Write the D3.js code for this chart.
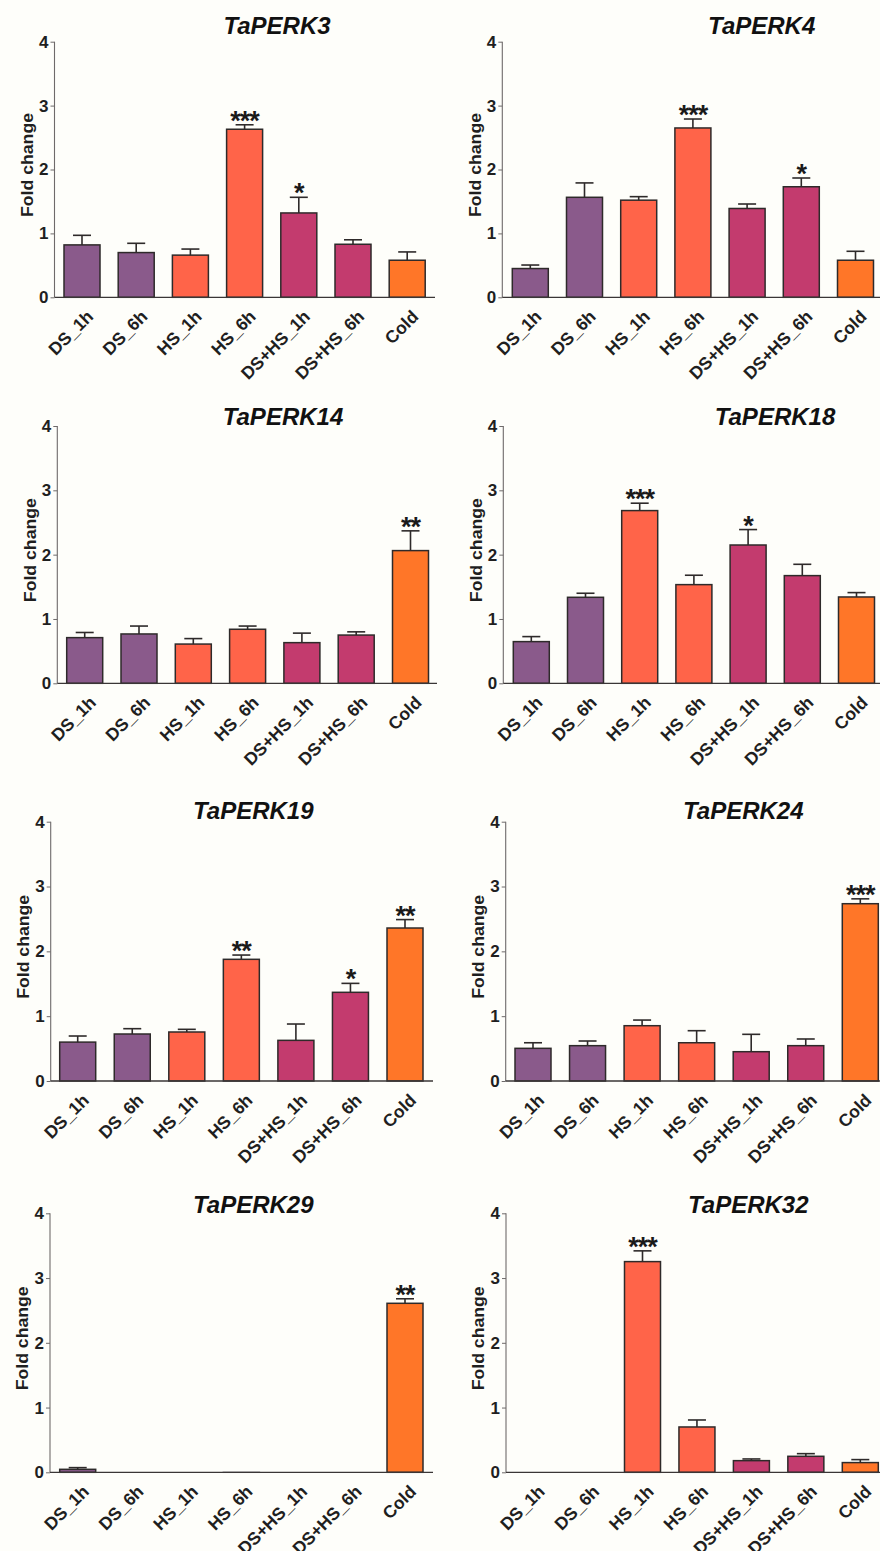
<!DOCTYPE html>
<html>
<head>
<meta charset="utf-8">
<script src="https://cdn.jsdelivr.net/npm/d3@7"></script>
<style>
  html, body { margin: 0; padding: 0; background: #fefefa; }
  svg { display: block; }
  text { font-family: "Liberation Sans", Arial, sans-serif; }
</style>
</head>
<body>
<svg id="chart" width="880" height="1551"></svg>
<script>
// ---------------- DATA ----------------
const categories = ["DS_1h", "DS_6h", "HS_1h", "HS_6h", "DS+HS_1h", "DS+HS_6h", "Cold"];
const genes = ["TaPERK3", "TaPERK4", "TaPERK14", "TaPERK18", "TaPERK19", "TaPERK24", "TaPERK29", "TaPERK32"];
const yTicks = [0, 1, 2, 3, 4];

const meanPERK3  = [0.82, 0.70, 0.66, 2.63, 1.32, 0.83, 0.58];
const semPERK3   = [0.15, 0.145, 0.095, 0.07, 0.245, 0.07, 0.13];
const sigPERK3   = ["", "", "", "***", "*", "", ""];

const meanPERK4  = [0.45, 1.565, 1.52, 2.65, 1.39, 1.73, 0.58];
const semPERK4   = [0.055, 0.225, 0.055, 0.14, 0.07, 0.137, 0.14];
const sigPERK4   = ["", "", "", "***", "", "*", ""];

const meanPERK14 = [0.71, 0.767, 0.61, 0.84, 0.632, 0.75, 2.063];
const semPERK14  = [0.08, 0.123, 0.085, 0.05, 0.148, 0.05, 0.307];
const sigPERK14  = ["", "", "", "", "", "", "**"];

const meanPERK18 = [0.648, 1.337, 2.685, 1.534, 2.15, 1.674, 1.342];
const semPERK18  = [0.078, 0.063, 0.115, 0.146, 0.24, 0.176, 0.068];
const sigPERK18  = ["", "", "***", "", "*", "", ""];

const meanPERK19 = [0.60, 0.725, 0.756, 1.877, 0.627, 1.368, 2.36];
const semPERK19  = [0.094, 0.082, 0.041, 0.066, 0.252, 0.138, 0.13];
const sigPERK19  = ["", "", "", "**", "", "*", "**"];

const meanPERK24 = [0.504, 0.545, 0.853, 0.59, 0.452, 0.545, 2.735];
const semPERK24  = [0.086, 0.072, 0.087, 0.186, 0.268, 0.103, 0.075];
const sigPERK24  = ["", "", "", "", "", "", "***"];

const meanPERK29 = [0.046, 0, 0, 0.005, 0, 0, 2.61];
const semPERK29  = [0.026, 0, 0, 0, 0, 0, 0.07];
const sigPERK29  = ["", "", "", "", "", "", "**"];

const meanPERK32 = [0, 0, 3.254, 0.70, 0.18, 0.247, 0.15];
const semPERK32  = [0, 0, 0.166, 0.108, 0.026, 0.041, 0.046];
const sigPERK32  = ["", "", "***", "", "", "", ""];

const categoryColors = ["#8a5a8b", "#8a5a8b", "#ff6449", "#ff6449", "#c33b6e", "#c33b6e", "#ff7628"];

// ---------------- LAYOUT ----------------
const means = [meanPERK3, meanPERK4, meanPERK14, meanPERK18, meanPERK19, meanPERK24, meanPERK29, meanPERK32];
const sems  = [semPERK3, semPERK4, semPERK14, semPERK18, semPERK19, semPERK24, semPERK29, semPERK32];
const sigs  = [sigPERK3, sigPERK4, sigPERK14, sigPERK18, sigPERK19, sigPERK24, sigPERK29, sigPERK32];

const frames = [
  {ax: 54.5,  y0: 297.3,  y4: 41.7,   c0: 82,    step: 54.2,  xEnd: 435, tx: 277,   ty: 34},
  {ax: 502.3, y0: 297.3,  y4: 41.7,   c0: 530.3, step: 54.2,  xEnd: 880, tx: 761.7, ty: 34},
  {ax: 57.3,  y0: 683.3,  y4: 426,    c0: 84.7,  step: 54.3,  xEnd: 437, tx: 283,   ty: 425},
  {ax: 503.3, y0: 683.3,  y4: 426,    c0: 531.3, step: 54.2,  xEnd: 880, tx: 775,   ty: 425},
  {ax: 50.7,  y0: 1081,   y4: 821.7,  c0: 77.7,  step: 54.55, xEnd: 433, tx: 253.3, ty: 819},
  {ax: 505.7, y0: 1081,   y4: 821.7,  c0: 533,   step: 54.55, xEnd: 880, tx: 743.3, ty: 819},
  {ax: 50,    y0: 1472.3, y4: 1213.3, c0: 77.7,  step: 54.55, xEnd: 433, tx: 253.3, ty: 1213},
  {ax: 506,   y0: 1472.3, y4: 1213.3, c0: 533.6, step: 54.45, xEnd: 880, tx: 748.3, ty: 1213}
];

const barW = 36;
const svg = d3.select("#chart");
const FONT = "'Liberation Sans', Arial, sans-serif";

frames.forEach((f, gi) => {
  const g = svg.append("g");
  const pad = 1 - barW / f.step;
  const x = d3.scaleBand()
    .domain(categories)
    .range([f.c0 - f.step / 2, f.c0 + 6.5 * f.step])
    .paddingInner(pad)
    .paddingOuter(pad / 2);
  const y = d3.scaleLinear().domain([0, 4]).range([f.y0, f.y4]);

  const rows = categories.map((c, i) => ({cat: c, v: means[gi][i], e: sems[gi][i], s: sigs[gi][i], col: categoryColors[i]}));

  g.selectAll("rect.bar").data(rows.filter(d => d.v > 0)).join("rect")
    .attr("class", "bar")
    .attr("x", d => x(d.cat))
    .attr("y", d => y(d.v))
    .attr("width", x.bandwidth())
    .attr("height", d => y(0) - y(d.v))
    .attr("fill", d => d.col)
    .attr("stroke", d => d.v < 0.01 ? "#bbbbbb" : "#2e2a2a")
    .attr("stroke-width", 1.5);

  const eb = g.selectAll("g.err").data(rows.filter(d => d.e > 0)).join("g").attr("class", "err");
  eb.append("line")
    .attr("x1", d => x(d.cat) + x.bandwidth() / 2)
    .attr("x2", d => x(d.cat) + x.bandwidth() / 2)
    .attr("y1", d => y(d.v))
    .attr("y2", d => y(d.v + d.e))
    .attr("stroke", "#2e2a2a").attr("stroke-width", 1.6);
  eb.append("line")
    .attr("x1", d => x(d.cat) + x.bandwidth() / 2 - 9)
    .attr("x2", d => x(d.cat) + x.bandwidth() / 2 + 9)
    .attr("y1", d => y(d.v + d.e))
    .attr("y2", d => y(d.v + d.e))
    .attr("stroke", "#2e2a2a").attr("stroke-width", 1.6);

  g.selectAll("text.sig").data(rows.filter(d => d.s)).join("text")
    .attr("class", "sig")
    .attr("x", d => x(d.cat) + x.bandwidth() / 2)
    .attr("y", d => y(d.v + d.e) + 5)
    .attr("text-anchor", "middle")
    .attr("font-size", 27)
    .attr("font-weight", "bold")
    .attr("fill", "#1a1a1a")
    .attr("letter-spacing", -1)
    .text(d => d.s);

  const yAxis = d3.axisLeft(y).tickValues(yTicks).tickFormat(d3.format("d")).tickSize(4).tickPadding(2);
  const ya = g.append("g").attr("transform", `translate(${f.ax},0)`).call(yAxis);
  ya.attr("font-size", null).attr("font-family", null);
  ya.select(".domain").attr("stroke", "#6e6a6a").attr("stroke-width", 1.1).attr("d", `M-0,${f.y4}V${f.y0}`);
  ya.selectAll(".tick line").attr("stroke", "#6e6a6a");
  ya.selectAll(".tick text")
    .style("font-size", "17px").style("font-weight", "bold").attr("fill", "#1f1f1f")
    .style("font-family", FONT);

  const xAxis = d3.axisBottom(x).tickSize(0).tickPadding(0);
  const xa = g.append("g").attr("transform", `translate(0,${f.y0})`).call(xAxis);
  xa.attr("font-size", null).attr("font-family", null);
  xa.select(".domain").attr("stroke", "#3a3636").attr("stroke-width", 1.3).attr("d", `M${f.ax},0H${f.xEnd}`);
  xa.selectAll(".tick text")
    .style("font-size", "17.5px").style("font-weight", "bold").attr("fill", "#1f1f1f")
    .style("font-family", FONT)
    .attr("text-anchor", "end")
    .attr("y", 0).attr("dy", "0.35em")
    .attr("transform", "translate(8,16) rotate(-45)");

  g.append("text")
    .attr("transform", `translate(${f.ax - 27.5},${(f.y0 + f.y4) / 2 - 4.5}) rotate(-90)`)
    .attr("text-anchor", "middle")
    .attr("dy", "0.35em")
    .style("font-size", "17px")
    .style("font-weight", "bold")
    .attr("fill", "#1f1f1f")
    .attr("textLength", 104)
    .attr("lengthAdjust", "spacingAndGlyphs")
    .text("Fold change");

  g.append("text")
    .attr("x", f.tx).attr("y", f.ty)
    .attr("text-anchor", "middle")
    .style("font-size", "24px")
    .style("font-weight", "bold")
    .style("font-style", "italic")
    .attr("fill", "#111")
    .text(genes[gi]);
});
</script>
</body>
</html>
